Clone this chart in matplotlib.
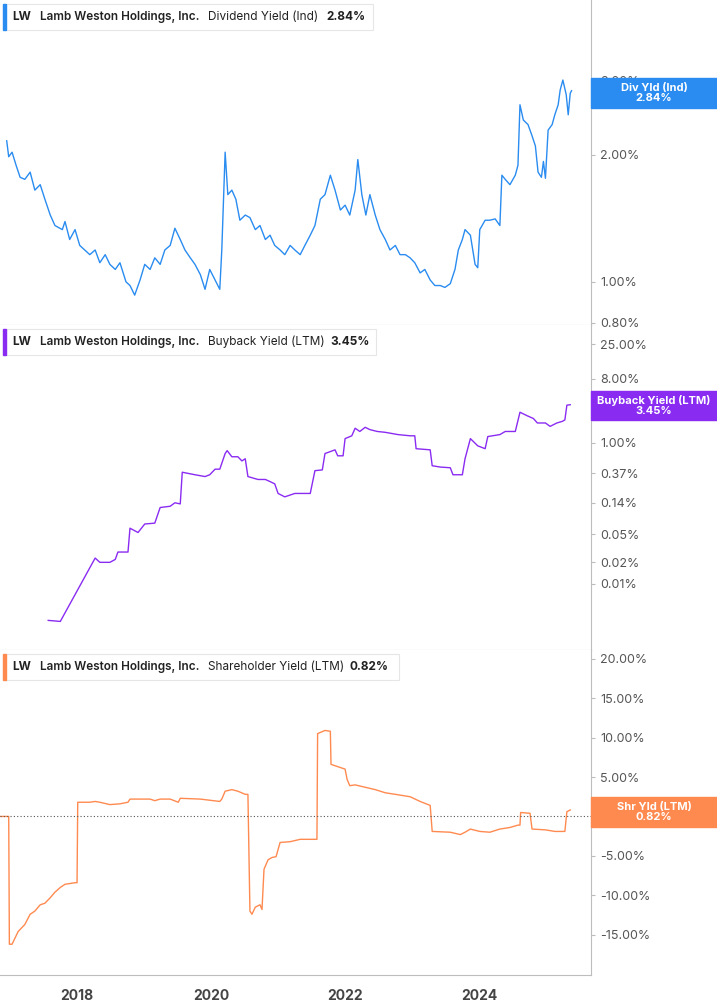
import matplotlib
matplotlib.use("Agg")
import matplotlib.pyplot as plt
from matplotlib.patches import Rectangle
from matplotlib.ticker import FixedLocator, NullLocator

plt.rcParams["font.family"] = "Inter"

div_x = [2016.95,2016.98,2017.03,2017.09,2017.15,2017.22,2017.30,2017.37,2017.45,2017.52,2017.60,2017.67,2017.78,2017.82,2017.89,2017.97,2018.04,2018.19,2018.27,2018.34,2018.42,2018.49,2018.57,2018.64,2018.73,2018.79,2018.86,2018.94,2019.01,2019.09,2019.16,2019.24,2019.31,2019.39,2019.46,2019.54,2019.61,2019.69,2019.76,2019.84,2019.91,2019.98,2020.06,2020.13,2020.16,2020.21,2020.25,2020.31,2020.37,2020.43,2020.51,2020.58,2020.66,2020.73,2020.81,2020.88,2020.95,2021.03,2021.10,2021.18,2021.25,2021.33,2021.40,2021.48,2021.55,2021.63,2021.70,2021.78,2021.85,2021.93,2022.00,2022.07,2022.15,2022.19,2022.25,2022.31,2022.37,2022.45,2022.52,2022.60,2022.67,2022.75,2022.82,2022.90,2022.97,2023.04,2023.12,2023.19,2023.27,2023.34,2023.42,2023.49,2023.57,2023.64,2023.69,2023.75,2023.79,2023.87,2023.94,2023.98,2024.01,2024.09,2024.16,2024.24,2024.31,2024.34,2024.39,2024.46,2024.54,2024.58,2024.61,2024.66,2024.73,2024.79,2024.84,2024.88,2024.93,2024.96,2024.99,2025.03,2025.09,2025.13,2025.18,2025.21,2025.25,2025.30,2025.33,2025.36,2025.38]
div_y = [2.16,1.98,2.03,1.89,1.77,1.75,1.82,1.65,1.70,1.57,1.44,1.36,1.33,1.39,1.26,1.33,1.22,1.16,1.19,1.11,1.16,1.10,1.07,1.11,1.00,0.98,0.93,1.01,1.10,1.07,1.14,1.10,1.19,1.22,1.34,1.26,1.19,1.14,1.10,1.04,0.96,1.07,1.01,0.96,1.19,2.03,1.61,1.65,1.57,1.40,1.44,1.42,1.33,1.36,1.26,1.29,1.22,1.19,1.16,1.22,1.19,1.16,1.22,1.29,1.36,1.57,1.61,1.79,1.65,1.48,1.52,1.44,1.65,1.95,1.61,1.44,1.61,1.44,1.33,1.26,1.19,1.22,1.16,1.16,1.14,1.11,1.05,1.07,1.01,0.98,0.98,0.97,0.99,1.07,1.19,1.26,1.33,1.29,1.10,1.08,1.33,1.40,1.40,1.41,1.36,1.79,1.75,1.70,1.79,1.89,2.63,2.42,2.36,2.22,2.10,1.82,1.77,1.93,1.76,2.29,2.36,2.49,2.63,2.85,3.01,2.78,2.49,2.80,2.84]

bb_x = [2017.57,2017.75,2018.27,2018.34,2018.49,2018.57,2018.61,2018.76,2018.79,2018.91,2019.01,2019.16,2019.24,2019.39,2019.46,2019.54,2019.57,2019.76,2019.91,2019.98,2020.06,2020.13,2020.21,2020.24,2020.31,2020.40,2020.46,2020.51,2020.55,2020.70,2020.81,2020.88,2020.95,2021.00,2021.10,2021.25,2021.40,2021.48,2021.55,2021.66,2021.70,2021.85,2021.89,2021.97,2022.00,2022.10,2022.15,2022.22,2022.30,2022.37,2022.48,2022.60,2022.79,2022.97,2023.04,2023.06,2023.27,2023.30,2023.42,2023.57,2023.61,2023.75,2023.79,2023.87,2023.98,2024.09,2024.13,2024.31,2024.39,2024.54,2024.61,2024.72,2024.81,2024.87,2024.99,2025.06,2025.16,2025.24,2025.28,2025.31,2025.36]
bb_y = [0.003,0.0029,0.023,0.02,0.02,0.022,0.028,0.028,0.061,0.053,0.07,0.072,0.12,0.125,0.14,0.135,0.38,0.35,0.33,0.35,0.42,0.42,0.70,0.77,0.63,0.63,0.55,0.59,0.33,0.30,0.30,0.28,0.26,0.19,0.17,0.19,0.19,0.19,0.40,0.41,0.70,0.79,0.65,0.65,1.14,1.25,1.6,1.44,1.65,1.53,1.44,1.4,1.3,1.25,1.25,0.82,0.79,0.47,0.45,0.44,0.35,0.35,0.59,1.14,0.9,0.82,1.22,1.3,1.44,1.44,2.7,2.4,2.2,1.9,1.9,1.7,1.9,2.0,2.1,3.4,3.45]

sh_x = [2016.85,2016.98,2016.99,2017.03,2017.12,2017.22,2017.30,2017.37,2017.45,2017.52,2017.60,2017.67,2017.75,2017.82,2017.97,2018.00,2018.01,2018.19,2018.27,2018.34,2018.49,2018.64,2018.76,2018.79,2018.94,2019.09,2019.16,2019.24,2019.39,2019.51,2019.54,2019.84,2020.13,2020.16,2020.21,2020.31,2020.40,2020.51,2020.55,2020.58,2020.61,2020.66,2020.73,2020.76,2020.79,2020.85,2020.91,2020.97,2021.03,2021.18,2021.33,2021.48,2021.58,2021.59,2021.70,2021.78,2021.79,2021.93,2022.00,2022.03,2022.07,2022.15,2022.30,2022.45,2022.60,2022.75,2022.97,2023.12,2023.27,2023.30,2023.57,2023.72,2023.79,2023.87,2024.01,2024.16,2024.31,2024.46,2024.58,2024.61,2024.62,2024.76,2024.79,2024.99,2025.13,2025.24,2025.28,2025.31,2025.36]
sh_y = [0,0,-16.2,-16.2,-14.6,-13.7,-12.4,-12.0,-11.2,-11.0,-10.3,-9.6,-9.0,-8.6,-8.4,-8.4,1.8,1.8,1.9,1.8,1.5,1.6,1.8,2.2,2.2,2.2,2.0,2.2,2.2,1.8,2.3,2.2,1.9,2.2,3.2,3.4,3.2,2.8,2.8,-12.0,-12.4,-11.5,-11.2,-11.8,-6.7,-5.5,-5.2,-5.1,-3.3,-3.2,-2.9,-2.9,-2.9,10.5,10.9,10.8,6.6,6.2,6.0,4.7,3.9,4.0,3.7,3.4,3.0,2.8,2.5,1.9,1.4,-1.9,-2.0,-2.3,-2.0,-1.6,-1.9,-2.0,-1.6,-1.4,-1.1,-1.1,0.5,0.4,-1.6,-1.7,-1.9,-1.9,-1.9,0.6,0.82]

xticks = [2018, 2020, 2022, 2024]
div_ticks = [0.8, 1, 2, 3]
bb_ticks = [0.01, 0.02, 0.05, 0.14, 0.37, 1, 3, 8, 25]
sh_ticks = [-15, -10, -5, 0, 5, 10, 15, 20]

W, H = 717, 1005
fig = plt.figure(figsize=(W/100, H/100), dpi=100)
pw = 591 / W
grey = "#BDBDBD"
tc = "#555555"

def mk(top, bot):
    ax = fig.add_axes([0, 1 - bot/H, pw, (bot - top)/H])
    for s in ["top", "left"]:
        ax.spines[s].set_visible(False)
    ax.spines["right"].set_color(grey)
    ax.spines["bottom"].set_color(grey)
    ax.yaxis.tick_right()
    ax.tick_params(axis="y", colors=grey, labelcolor=tc, labelsize=9, length=3, direction="out")
    ax.set_xlim(2016.85, 2025.67)
    ax.xaxis.set_major_locator(FixedLocator(xticks))
    ax.tick_params(axis="x", length=0, labelbottom=False)
    return ax

ax1 = mk(0, 325)
ax1.plot(div_x, div_y, color="#2A8CF0", lw=1)
ax1.set_yscale("log")
ax1.set_ylim(0.79, 4.66)
ax1.yaxis.set_major_locator(FixedLocator(div_ticks))
ax1.yaxis.set_minor_locator(NullLocator())
ax1.set_yticklabels([f"{v:.2f}%" for v in div_ticks])

ax2 = mk(325, 650)
ax2.plot(bb_x, bb_y, color="#8A2BF2", lw=1)
ax2.set_yscale("log")
ax2.set_ylim(0.00114, 46.7)
ax2.yaxis.set_major_locator(FixedLocator(bb_ticks))
ax2.yaxis.set_minor_locator(NullLocator())
ax2.set_yticklabels([f"{v:.2f}%" for v in bb_ticks])

ax3 = mk(650, 975)
ax3.plot(sh_x, sh_y, color="#FF8A50", lw=1)
ax3.axhline(0, color="#555555", lw=0.8, ls=(0, (1, 2)))
ax3.set_ylim(-20.1, 21.1)
ax3.yaxis.set_major_locator(FixedLocator(sh_ticks))
ax3.set_yticklabels([f"{v:.2f}%" for v in sh_ticks])
ax3.tick_params(axis="x", labelbottom=True, labelsize=10, labelcolor="#444444", pad=10)
for l in ax3.get_xticklabels():
    l.set_fontweight("bold")

def box(top, bot, color, lines):
    fig.patches.append(Rectangle((591/W, 1 - bot/H), (W-591)/W, (bot-top)/H,
                                 transform=fig.transFigure, color=color, zorder=5))
    fig.text(654/W, 1 - (top+bot)/2/H, lines, ha="center", va="center", color="white",
             fontsize=8, fontweight="bold", zorder=6, linespacing=1.05)

box(78, 108, "#2A8CF0", "Div Yld (Ind)\n2.84%")
box(391, 420, "#8A2BF2", "Buyback Yield (LTM)\n3.45%")
box(797, 827, "#FF8A50", "Shr Yld (LTM)\n0.82%")

def legend(top, w, color, metric, val, vx):
    fig.patches.append(Rectangle((3/W, 1 - (top+26)/H), w/W, 26/H, transform=fig.transFigure,
                                 facecolor="white", edgecolor="#E6E6E6", lw=0.8, zorder=5))
    fig.patches.append(Rectangle((3/W, 1 - (top+26)/H), 3/W, 26/H, transform=fig.transFigure,
                                 color=color, zorder=6))
    y = 1 - (top+13)/H
    kw = dict(fontsize=8.5, color="#222222", va="center", zorder=7)
    fig.text(12/W, y, "LW", fontweight="bold", **kw)
    fig.text(40/W, y, "Lamb Weston Holdings, Inc.", fontweight="semibold", **kw)
    fig.text(208/W, y, metric, **kw)
    fig.text(vx/W, y, val, fontweight="bold", **kw)

legend(4, 370, "#2A8CF0", "Dividend Yield (Ind)", "2.84%", 326)
legend(329, 373, "#8A2BF2", "Buyback Yield (LTM)", "3.45%", 330)
legend(654, 396, "#FF8A50", "Shareholder Yield (LTM)", "0.82%", 350)

fig.savefig("out.png", dpi=100)
